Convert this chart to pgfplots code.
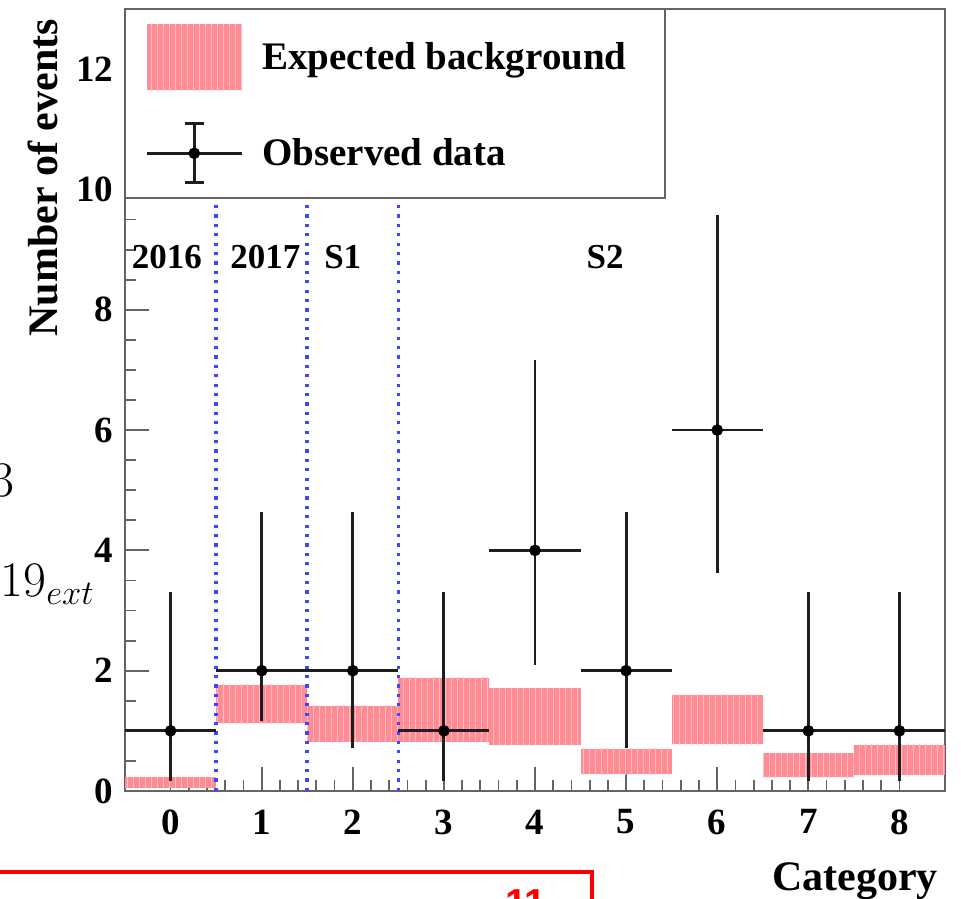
\documentclass[border=0pt]{standalone}
\usepackage{pgfplots}
\pgfplotsset{compat=1.18}
\usepackage{pgfplotstable}
\usetikzlibrary{patterns}
\usepackage{fontspec}
\setmainfont{Liberation Serif}
\newfontfamily\arialfont{Liberation Sans}
\definecolor{framegray}{RGB}{100,100,100}
\definecolor{bandfill}{RGB}{255,140,148}
\definecolor{bandstripe}{RGB}{255,190,196}
\definecolor{dotblue}{RGB}{60,70,255}
\definecolor{errgray}{RGB}{30,30,30}

\pgfplotstableread{
x y ex ep em
0 1 0.5 2.30 0.83
1 2 0.5 2.64 0.83
2 2 0.5 2.64 1.29
3 1 0.5 2.30 0.83
4 4 0.5 3.16 1.91
5 2 0.5 2.64 1.29
6 6 0.5 3.58 2.38
7 1 0.5 2.30 0.83
8 1 0.5 2.30 0.83
}\obsdata

\begin{document}
\begin{tikzpicture}
\useasboundingbox (-62.5pt,-53.5pt) rectangle (418pt,395.5pt);
\begin{axis}[
  at={(0,0)}, anchor=south west,
  scale only axis, width=410pt, height=391pt,
  xmin=-0.5, xmax=8.5, ymin=0, ymax=13,
  xtick={0,...,8}, ytick={0,2,...,12},
  minor x tick num=4, minor y tick num=3,
  tick align=inside, xtick pos=bottom, ytick pos=left,
  major tick length=12pt, minor tick length=5.5pt,
  axis line style={color=framegray, line width=1pt},
  every tick/.style={framegray, line width=0.9pt},
  ticklabel style={font=\bfseries\fontsize{18.5}{20}\selectfont},
  /pgf/number format/assume math mode=true,
  xticklabel style={yshift=-5.8pt},
  yticklabel style={xshift=-2.3pt},
  xlabel={Category}, ylabel={Number of events},
  label style={font=\bfseries\fontsize{21}{24}\selectfont},
  xlabel style={at={(axis description cs:1,-0.115)}, anchor=east},
  ylabel style={at={(axis description cs:-0.1,0.996)}, anchor=east},
  band/.style={draw=none, fill=bandfill, postaction={pattern=vertical lines, pattern color=bandstripe}},
  legend style={at={(0,1)}, anchor=north west, draw=none, fill=none,
    inner xsep=10pt, inner ysep=7.5pt, row sep=16pt,
    /tikz/every odd column/.append style={column sep=7.5pt},
    font=\bfseries\fontsize{19.5}{22}\selectfont},
  legend cell align=left,
]
% expected background bands
\addplot[band, forget plot] coordinates {(-0.5,0.05) (0.5,0.05) (0.5,0.23) (-0.5,0.23)} -- cycle;
\addplot[band, forget plot] coordinates {(0.5,1.13) (1.5,1.13) (1.5,1.77) (0.5,1.77)} -- cycle;
\addplot[band, forget plot] coordinates {(1.5,0.82) (2.5,0.82) (2.5,1.42) (1.5,1.42)} -- cycle;
\addplot[band, forget plot] coordinates {(2.5,0.82) (3.5,0.82) (3.5,1.88) (2.5,1.88)} -- cycle;
\addplot[band, forget plot] coordinates {(3.5,0.77) (4.5,0.77) (4.5,1.71) (3.5,1.71)} -- cycle;
\addplot[band, forget plot] coordinates {(4.5,0.28) (5.5,0.28) (5.5,0.70) (4.5,0.70)} -- cycle;
\addplot[band, forget plot] coordinates {(5.5,0.78) (6.5,0.78) (6.5,1.60) (5.5,1.60)} -- cycle;
\addplot[band, forget plot] coordinates {(6.5,0.23) (7.5,0.23) (7.5,0.63) (6.5,0.63)} -- cycle;
\addplot[band, forget plot] coordinates {(7.5,0.27) (8.5,0.27) (8.5,0.77) (7.5,0.77)} -- cycle;
% separators
\addplot[dotblue, line width=1.8pt, dash pattern=on 1.6pt off 3.1pt, forget plot] coordinates {(0.5,0) (0.5,10)};
\addplot[dotblue, line width=1.8pt, dash pattern=on 1.6pt off 3.1pt, forget plot] coordinates {(1.5,0) (1.5,10)};
\addplot[dotblue, line width=1.8pt, dash pattern=on 1.6pt off 3.1pt, forget plot] coordinates {(2.5,0) (2.5,10)};
% observed data
\addplot[draw=none, mark=*, mark size=2.7pt, mark options={fill=black, draw=black}, forget plot,
  error bars/.cd, x dir=both, x explicit, y dir=both, y explicit,
  error mark=none, error bar style={line width=1.4pt, color=errgray}]
  table[x=x, y=y, x error=ex, y error plus=ep, y error minus=em] {\obsdata};
% region labels
\node[font=\bfseries\fontsize{17.5}{20}\selectfont] at (axis cs:-0.04,8.88) {2016};
\node[font=\bfseries\fontsize{17.5}{20}\selectfont] at (axis cs:1.04,8.88) {2017};
\node[font=\bfseries\fontsize{17.5}{20}\selectfont] at (axis cs:1.89,8.88) {S1};
\node[font=\bfseries\fontsize{17.5}{20}\selectfont] at (axis cs:4.77,8.88) {S2};
% legend frame
\draw[framegray, line width=1pt, fill=white] (axis cs:-0.5,9.85) rectangle (axis cs:5.43,13);
\addlegendimage{draw=none, legend image code/.code={
  \fill[bandfill, draw=none] (0pt,-16.5pt) rectangle (47.5pt,16.5pt);
  \path[draw=none, pattern=vertical lines, pattern color=bandstripe] (0pt,-16.5pt) rectangle (47.5pt,16.5pt);}}
\addlegendentry{Expected background}
\addlegendimage{legend image code/.code={
  \draw[errgray, line width=1.4pt] (0pt,0pt) -- (47.5pt,0pt);
  \draw[errgray, line width=1.4pt] (23.75pt,-14.75pt) -- (23.75pt,14.75pt);
  \draw[errgray, line width=1.4pt] (19pt,-14.75pt) -- (28.5pt,-14.75pt);
  \draw[errgray, line width=1.4pt] (19pt,14.75pt) -- (28.5pt,14.75pt);
  \fill[black] (23.75pt,0pt) circle (2.7pt);}}
\addlegendentry{Observed data}
\end{axis}
\begin{scope}
\clip (-62.5pt,-53.5pt) rectangle (418pt,395.5pt);
\node[anchor=base east, inner sep=0pt, font=\fontsize{27}{30}\selectfont] at (-55pt,147pt) {$3$};
\node[anchor=base east, inner sep=0pt, font=\fontsize{26}{30}\selectfont] at (-15pt,97pt) {$19_{ext}$};
\draw[red, line width=1.6pt] (-63pt,-40.5pt) -- (233.5pt,-40.5pt) -- (233.5pt,-60pt);
\node[anchor=base west, inner sep=0pt, red, font=\arialfont\bfseries\fontsize{19.5}{22}\selectfont] at (190pt,-62.5pt) {11};
\end{scope}
\end{tikzpicture}
\end{document}
